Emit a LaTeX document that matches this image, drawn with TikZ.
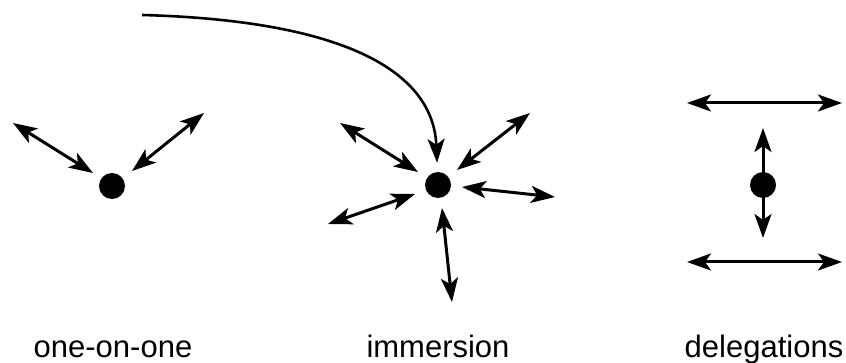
\documentclass[tikz,border=0pt]{standalone}
\usepackage{fontspec}
\setmainfont{Liberation Sans}
\usepackage{tikz}
\usetikzlibrary{positioning,arrows.meta,calc}

\begin{document}
\begin{tikzpicture}[x=1pt,y=-1pt,
		every node/.style={font=\fontsize{31}{36}\selectfont},
		dot/.style={circle,fill=black,inner sep=0pt,minimum size=26pt},
		dbl/.style={{Stealth[length=24pt,width=17pt,inset=6pt]}-{Stealth[length=24pt,width=17pt,inset=6pt]},line width=3pt},
		label/.style={anchor=base},
		]
		\useasboundingbox (0,0) rectangle (846,363);
		
		% Dots
		\node[dot] (one) at (112,186) {};
		\node[dot] (imm) at (438,185) {};
		\node[dot] (del) at (763,185) {};
		
		% Labels
		\node[label] (lone) at (113,357) {one-on-one};
		\node[label] (limm) at (438,357) {immersion};
		\node[label] (ldel) at (764,357) {delegations};
		
		% One-on-one arrows
		\coordinate (o1a) at (13,123);
		\coordinate (o1b) at (93,173);
		\coordinate (o2a) at (132,171);
		\coordinate (o2b) at (204,113);
		\draw[dbl] (o1a) -- (o1b);
		\draw[dbl] (o2a) -- (o2b);
		
		% Immersion arrows
		\coordinate (i1a) at (340,123);
		\coordinate (i1b) at (418,172);
		\coordinate (i2a) at (457,170);
		\coordinate (i2b) at (530,113);
		\coordinate (i3a) at (462,187);
		\coordinate (i3b) at (555,197);
		\coordinate (i4a) at (415,194);
		\coordinate (i4b) at (328,224);
		\coordinate (i5a) at (442,208);
		\coordinate (i5b) at (452,302);
		\draw[dbl] (i1a) -- (i1b);
		\draw[dbl] (i2a) -- (i2b);
		\draw[dbl] (i3a) -- (i3b);
		\draw[dbl] (i4a) -- (i4b);
		\draw[dbl] (i5a) -- (i5b);
		
		% Curved arrow into immersion
		\coordinate (start) at (142,15);
		\draw[-{Stealth[length=24pt,width=17pt,inset=6pt]},line width=2.6pt,shorten >=9pt]
		(start) .. controls (330,20) and (433,65) .. (imm);
		
		% Delegation arrows
		\coordinate (d1a) at (687,103);
		\coordinate (d1b) at (842,103);
		\coordinate (d2a) at (687,262);
		\coordinate (d2b) at (842,262);
		\coordinate (d3a) at (763,128);
		\coordinate (d3b) at (763,238);
		\draw[dbl] (d1a) -- (d1b);
		\draw[dbl] (d2a) -- (d2b);
		\draw[dbl] (d3a) -- (d3b);
		
	\end{tikzpicture}
\end{document}
